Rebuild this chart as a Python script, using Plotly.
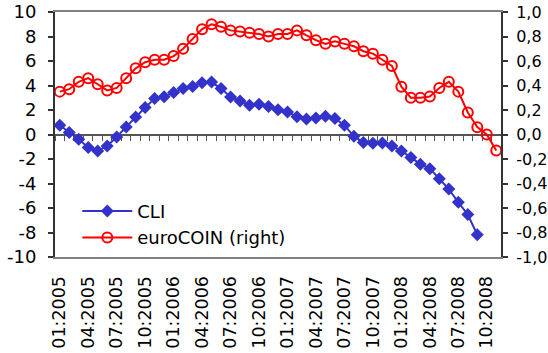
import plotly.graph_objects as go

# Monthly categories, 01:2005 .. 11:2008
months = [f"{m:02d}:{y}" for y in range(2005, 2009) for m in range(1, 13)][:47]

# CLI, left axis
cli = [0.76, 0.16, -0.38, -1.06, -1.34, -0.93, -0.20, 0.62, 1.43, 2.20,
       2.93, 3.09, 3.42, 3.75, 3.91, 4.23, 4.28, 3.75, 3.06, 2.74,
       2.39, 2.47, 2.28, 2.02, 1.84, 1.45, 1.27, 1.34, 1.49, 1.31,
       0.76, -0.15, -0.65, -0.72, -0.69, -0.93, -1.34, -1.87, -2.42, -2.79,
       -3.61, -4.45, -5.54, -6.53, -8.18]

# euroCOIN, right axis
eurocoin = [0.35, 0.37, 0.43, 0.46, 0.41, 0.36, 0.38, 0.46, 0.54, 0.59,
            0.61, 0.61, 0.64, 0.70, 0.78, 0.86, 0.90, 0.88, 0.85, 0.84,
            0.83, 0.82, 0.80, 0.82, 0.82, 0.85, 0.81, 0.77, 0.74, 0.76,
            0.74, 0.72, 0.68, 0.66, 0.61, 0.56, 0.39, 0.30, 0.30, 0.31,
            0.38, 0.43, 0.35, 0.18, 0.06, 0.00, -0.13]

# Axis labels
x_labels = months[0:46:3]
left_ticks = [10, 8, 6, 4, 2, 0, -2, -4, -6, -8, -10]
left_text = ["10", "8", "6", "4", "2", "0", "-2", "-4", "-6", "-8", "-10"]
right_ticks = [1.0, 0.8, 0.6, 0.4, 0.2, 0.0, -0.2, -0.4, -0.6, -0.8, -1.0]
right_text = ["1,0", "0,8", "0,6", "0,4", "0,2", "0,0", "-0,2", "-0,4", "-0,6", "-0,8", "-1,0"]

BLUE = "#3333CC"
RED = "#FF0000"
FONT = "DejaVu Sans"

fig = go.Figure()
fig.add_trace(go.Scatter(
    x=months[:len(cli)], y=cli, name="CLI", mode="lines+markers",
    line=dict(color=BLUE, width=2),
    marker=dict(symbol="diamond", size=10, color=BLUE),
    xaxis="x", yaxis="y",
))
# euroCOIN sits on the zero-line category axis (x2) and the right value axis
fig.add_trace(go.Scatter(
    x=months[:len(eurocoin)], y=eurocoin, name="euroCOIN (right)", mode="lines+markers",
    line=dict(color=RED, width=2),
    marker=dict(symbol="circle-open", size=10, color=RED, line=dict(width=2, color=RED)),
    xaxis="x2", yaxis="y2",
))

n = len(months)
fig.update_layout(
    width=548, height=353,
    margin=dict(l=55, r=47, t=12, b=96),
    paper_bgcolor="white", plot_bgcolor="white",
    font=dict(family=FONT, size=18, color="#000000"),
    showlegend=True,
    legend=dict(x=0.05, y=0.262, xanchor="left", yanchor="top",
                bgcolor="rgba(0,0,0,0)", font=dict(size=18),
                itemwidth=50, tracegroupgap=0),
    xaxis=dict(
        type="category", categoryorder="array", categoryarray=months,
        range=[-0.5, n - 0.5],
        tickmode="array", tickvals=x_labels, ticktext=x_labels,
        tickangle=-90, ticks="", showgrid=False, zeroline=False,
        tickfont=dict(size=17.5),
        showline=True, linecolor="#808080", linewidth=2, mirror=True,
        ticklabelstandoff=10, automargin=False,
    ),
    # category axis drawn along the zero line, ticks between months
    xaxis2=dict(
        type="category", categoryorder="array", categoryarray=months,
        overlaying="x", anchor="free", position=0.5, side="bottom",
        range=[-0.5, n - 0.5], tickmode="linear", tick0=0, dtick=1,
        tickson="boundaries",
        ticks="outside", ticklen=5, tickwidth=1, tickcolor="#555555",
        showticklabels=False, showgrid=False, zeroline=False,
        showline=True, linecolor="#555555", linewidth=2, layer="below traces",
        automargin=False,
    ),
    yaxis=dict(
        range=[-10, 10], tickmode="array", tickvals=left_ticks, ticktext=left_text,
        ticks="outside", ticklen=5, tickcolor="#333333", tickwidth=1.5,
        showline=True, linecolor="#333333", linewidth=2,
        showgrid=False, zeroline=False, ticklabelstandoff=8, automargin=False,
    ),
    yaxis2=dict(
        overlaying="y", side="right", anchor="x",
        range=[-1, 1], tickmode="array", tickvals=right_ticks, ticktext=right_text,
        tickfont=dict(size=16),
        ticks="outside", ticklen=5, tickcolor="#333333", tickwidth=1.5,
        showline=True, linecolor="#333333", linewidth=2,
        showgrid=False, zeroline=False, ticklabelstandoff=5, automargin=False,
    ),
)

fig.write_html("out.html")
